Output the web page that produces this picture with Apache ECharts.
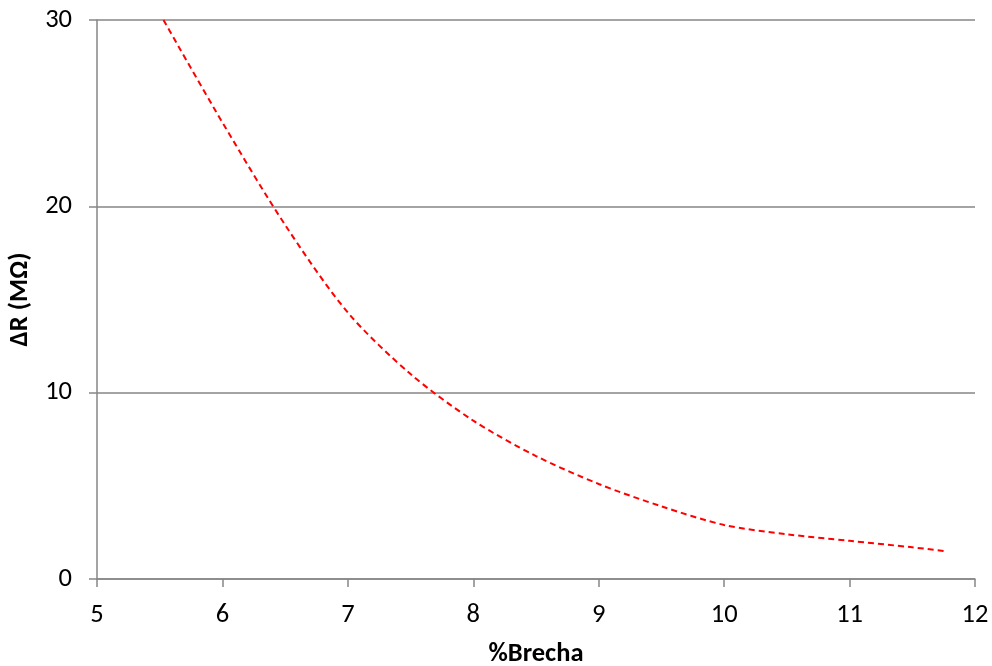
<!DOCTYPE html>
<html>
<head>
<meta charset="utf-8">
<script src="https://cdn.jsdelivr.net/npm/echarts@6/dist/echarts.min.js"></script>
<style>
    html, body { margin: 0; padding: 0; background: #fff; }
    #chart { width: 992px; height: 666px; }
</style>
</head>
<body>
<div id="chart"></div>
<script>
    // valores
    var brecha = [5.53, 6.0, 6.5, 7.0, 7.5, 8.0, 8.5, 9.0, 9.5, 10.0, 10.5, 11.0, 11.5, 11.78];
    var deltaR = [30.0, 24.5, 19.0, 14.3, 11.0, 8.5, 6.6, 5.1, 3.9, 2.9, 2.4, 2.05, 1.7, 1.48];
    var xTicks = [5, 6, 7, 8, 9, 10, 11, 12];
    var yTicks = [0, 10, 20, 30];

    var axisGray = '#868686';
    var fontFam = 'Carlito, "Open Sans", "Liberation Sans", sans-serif';

    var myChart = echarts.init(document.getElementById('chart'));
    var option = {
        animation: false,
        grid: { left: 97, right: 17, top: 20, bottom: 87, outerBoundsMode: 'none', containLabel: false },
        xAxis: {
            type: 'value',
            min: xTicks[0],
            max: xTicks[xTicks.length - 1],
            interval: 1,
            name: '%Brecha',
            nameLocation: 'middle',
            nameGap: 62,
            nameTextStyle: { fontFamily: fontFam, fontSize: 26.5, fontWeight: 'bold', color: '#000' },
            axisLine: { lineStyle: { color: axisGray, width: 1.5 } },
            axisTick: { show: true, inside: false, length: 8, lineStyle: { color: axisGray, width: 1.5 } },
            axisLabel: { fontFamily: fontFam, fontSize: 26.5, color: '#000', margin: 23 },
            splitLine: { show: false }
        },
        yAxis: {
            type: 'value',
            min: yTicks[0],
            max: yTicks[yTicks.length - 1],
            interval: 10,
            name: 'ΔR (MΩ)',
            nameLocation: 'middle',
            nameGap: 61,
            nameTextStyle: { fontFamily: fontFam, fontSize: 26.5, fontWeight: 'bold', color: '#000' },
            axisLine: { show: true, lineStyle: { color: axisGray, width: 1.5 } },
            axisTick: { show: true, inside: false, length: 8, lineStyle: { color: axisGray, width: 1.5 } },
            axisLabel: { fontFamily: fontFam, fontSize: 26.5, color: '#000', margin: 25 },
            splitLine: { show: true, lineStyle: { color: axisGray, width: 1.5 } }
        },
        series: [
            {
                type: 'line',
                data: brecha.map(function (x, i) { return [x, deltaR[i]]; }),
                smooth: 0.3,
                showSymbol: false,
                lineStyle: { color: '#ff0000', width: 2, type: [6, 4] }
            }
        ]
    };
    option && myChart.setOption(option);
</script>
</body>
</html>
